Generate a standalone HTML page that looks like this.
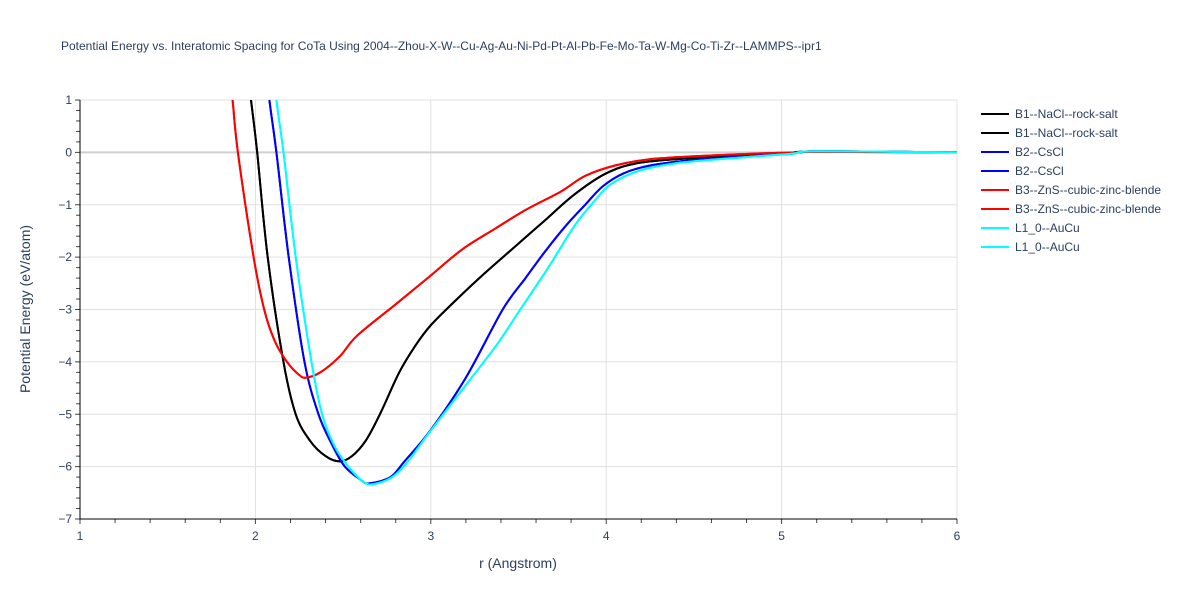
<!DOCTYPE html>
<html><head><meta charset="utf-8"><style>
body{margin:0;background:#fff;width:1200px;height:600px;overflow:hidden;font-family:"Liberation Sans",sans-serif}
text{font-family:"Liberation Sans",sans-serif}
</style></head><body>
<svg id="chart" width="1200" height="600" xmlns="http://www.w3.org/2000/svg">
<text x="61" y="50" font-size="12" fill="#2a3f5f">Potential Energy vs. Interatomic Spacing for CoTa Using 2004--Zhou-X-W--Cu-Ag-Au-Ni-Pd-Pt-Al-Pb-Fe-Mo-Ta-W-Mg-Co-Ti-Zr--LAMMPS--ipr1</text>
<defs><clipPath id="clip"><rect x="80" y="100" width="877" height="419"/></clipPath></defs>
<g id="grid"></g>
<g id="curves" clip-path="url(#clip)"></g>
<g id="axes"></g>
<text x="518" y="568" font-size="14" fill="#2a3f5f" text-anchor="middle">r (Angstrom)</text>
<text transform="translate(30,309) rotate(-90)" font-size="14" fill="#2a3f5f" text-anchor="middle">Potential Energy (eV/atom)</text>
<g id="legend"></g>
</svg>
<script>
const xTicks=[1,2,3,4,5,6];
const yTicks=[1,0,-1,-2,-3,-4,-5,-6,-7];
const seriesNames=["B1--NaCl--rock-salt","B2--CsCl","B3--ZnS--cubic-zinc-blende","L1_0--AuCu"];
const seriesColors=["#000000","#0000ff","#ff0000","#00ffff"];
const b1R=[1.94,1.975,2.01,2.07,2.16,2.23,2.31,2.40,2.48,2.55,2.63,2.71,2.82,2.91,3.0,3.15,3.31,3.48,3.65,3.82,4.0,4.19,4.53,4.99,5.2,6.0];
const b1E=[2,1,0,-2,-4,-5,-5.5,-5.8,-5.9,-5.8,-5.5,-5,-4.2,-3.7,-3.3,-2.8,-2.3,-1.8,-1.3,-0.8,-0.4,-0.2,-0.1,-0.03,0.02,0];
const b2R=[2.05,2.08,2.12,2.19,2.28,2.36,2.44,2.51,2.6,2.65,2.77,2.85,3.0,3.2,3.41,3.54,3.65,3.77,3.88,3.98,4.1,4.25,4.48,4.76,5.05,5.2,6.0];
const b2E=[2,1,0,-2,-4,-5,-5.6,-6.0,-6.25,-6.32,-6.2,-5.9,-5.3,-4.3,-3.0,-2.4,-1.9,-1.4,-1.0,-0.65,-0.4,-0.25,-0.15,-0.08,-0.03,0.02,0];
const b3R=[1.84,1.87,1.9,1.99,2.05,2.11,2.18,2.25,2.29,2.37,2.48,2.58,2.8,3.0,3.18,3.37,3.54,3.74,3.88,4.05,4.25,4.53,4.88,5.1,5.2,6.0];
const b3E=[2,1,0,-2,-3,-3.6,-4.0,-4.25,-4.3,-4.2,-3.9,-3.5,-2.9,-2.35,-1.85,-1.45,-1.1,-0.75,-0.45,-0.25,-0.13,-0.07,-0.02,0,0.01,0];
const l10R=[2.09,2.12,2.16,2.23,2.32,2.38,2.45,2.53,2.62,2.68,2.78,2.87,2.98,3.14,3.37,3.51,3.67,3.82,3.94,4.03,4.19,4.42,4.76,5.05,5.2,6.0];
const l10E=[2,1,0,-2,-4,-5,-5.6,-6.0,-6.3,-6.33,-6.2,-5.9,-5.4,-4.7,-3.7,-3.0,-2.2,-1.4,-0.9,-0.6,-0.35,-0.2,-0.1,-0.03,0.02,0];

const NS="http://www.w3.org/2000/svg";
const X=v=>80+(v-1)*877/5;
const Y=v=>100+(1-v)*419/8;
function mk(t,a,p){const e=document.createElementNS(NS,t);for(const k in a)e.setAttribute(k,a[k]);p.appendChild(e);return e;}
const grid=document.getElementById('grid'),axes=document.getElementById('axes'),curves=document.getElementById('curves'),legend=document.getElementById('legend');
xTicks.forEach(t=>{
  if(t>1){const l=mk('line',{x1:X(t),x2:X(t),y1:100,y2:519,stroke:'#e0e0e0'},grid);
  
  }
  const tx=mk('text',{x:X(t),y:540,'font-size':12,fill:'#2a3f5f','text-anchor':'middle'},axes);tx.textContent=t;
  
  
});
for(let i=0;i<=25;i++){const v=1+i*0.2;mk('line',{x1:X(v),x2:X(v),y1:519,y2:i%5==0?524:523,stroke:'#444'},axes);}
yTicks.forEach(t=>{
  const l=mk('line',{x1:80,x2:957,y1:Y(t),y2:Y(t),stroke:t==0?'#d0d0d0':'#e0e0e0','stroke-width':t==0?2:1},grid);
  
  
  const tx=mk('text',{x:72,y:Y(t)+4,'font-size':12,fill:'#2a3f5f','text-anchor':'end'},axes);tx.textContent=t<0?'\u2212'+(-t):t;
  
  
});
for(let i=0;i<=40;i++){const v=1-i*0.2;mk('line',{x1:i%5==0?75:76,x2:80,y1:Y(v),y2:Y(v),stroke:'#444'},axes);}
const ax=mk('path',{d:`M80,100V519H957`,fill:'none',stroke:'#000'},axes);


function smooth(P){
  let d=`M${P[0][0].toFixed(1)},${P[0][1].toFixed(1)}`;
  for(let i=0;i<P.length-1;i++){
    const p0=P[Math.max(0,i-1)],p1=P[i],p2=P[i+1],p3=P[Math.min(P.length-1,i+2)];
    const c1=[p1[0]+(p2[0]-p0[0])/6,p1[1]+(p2[1]-p0[1])/6];
    const c2=[p2[0]-(p3[0]-p1[0])/6,p2[1]-(p3[1]-p1[1])/6];
    d+=`C${c1[0].toFixed(1)},${c1[1].toFixed(1)} ${c2[0].toFixed(1)},${c2[1].toFixed(1)} ${p2[0].toFixed(1)},${p2[1].toFixed(1)}`;
  }
  return d;
}
const data=[[b1R,b1E],[b2R,b2E],[b3R,b3E],[l10R,l10E]];
data.forEach((d,i)=>{
  const P=d[0].map((r,j)=>[X(r),Y(d[1][j])]);
  for(let k=0;k<2;k++){
    const p=mk('path',{d:smooth(P),fill:'none',stroke:seriesColors[i],'stroke-width':2,'stroke-linejoin':'round'},curves);
    
    
  }
});
let ly=114;
seriesNames.forEach((n,i)=>{for(let k=0;k<2;k++){
  const g=mk('g',{},legend);
  
  
  mk('line',{x1:981,x2:1009,y1:ly,y2:ly,stroke:seriesColors[i],'stroke-width':2},g);
  const t=mk('text',{x:1015,y:ly+4,'font-size':12,fill:'#2a3f5f'},g);t.textContent=n;
  ly+=19;
}});
</script>
</body></html>
